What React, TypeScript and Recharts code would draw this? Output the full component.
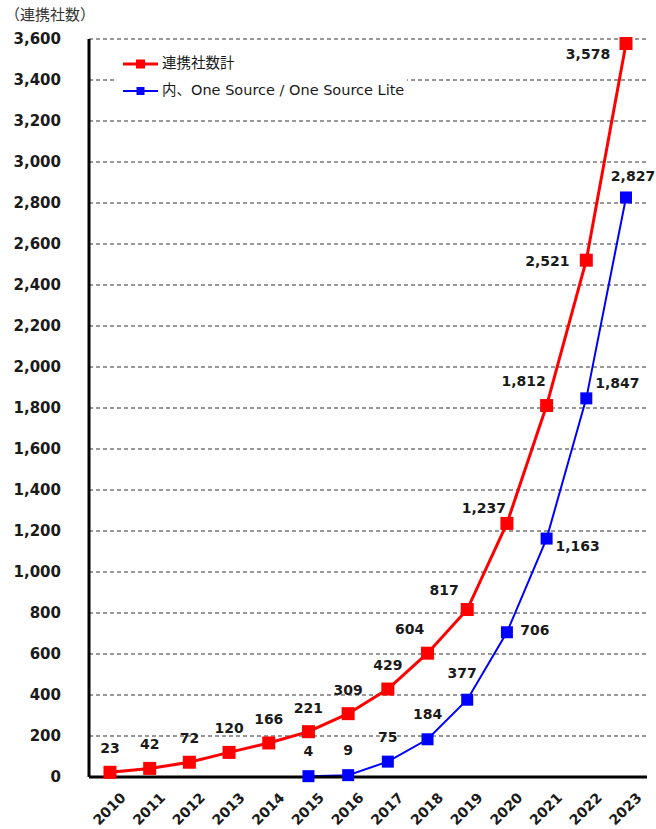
import { LineChart, Line, XAxis, YAxis, CartesianGrid, LabelList } from "recharts";

const years = ["2010", "2011", "2012", "2013", "2014", "2015", "2016", "2017", "2018", "2019", "2020", "2021", "2022", "2023"];
const totalPartners = [23, 42, 72, 120, 166, 221, 309, 429, 604, 817, 1237, 1812, 2521, 3578];
const oneSourcePartners = [null, null, null, null, null, 4, 9, 75, 184, 377, 706, 1163, 1847, 2827];
const yTicks = [0, 200, 400, 600, 800, 1000, 1200, 1400, 1600, 1800, 2000, 2200, 2400, 2600, 2800, 3000, 3200, 3400, 3600];

const totalName = "連携社数計";
const oneSourceName = "内、One Source / One Source Lite";

const data = years.map((year, i) => ({
  year,
  total: totalPartners[i],
  oneSource: oneSourcePartners[i],
}));

const FONT = "'DejaVu Sans', 'Noto Sans CJK JP', sans-serif";
const fmt = (v: number) => v.toLocaleString("en-US");

// label nudges so the two series' numbers don't collide
const totalOffset = (i: number) => {
  if (i <= 7) return { dx: 0, dy: -24 };
  if (i === 8) return { dx: -18, dy: -24 };
  if (i === 9) return { dx: -23, dy: -20 };
  if (i === 10) return { dx: -23, dy: -15 };
  if (i === 11) return { dx: -23, dy: -25 };
  if (i === 12) return { dx: -39, dy: 1 };
  return { dx: -38, dy: 10 };
};
const oneSourceOffset = (i: number) => {
  if (i <= 8) return { dx: 0, dy: -25 };
  if (i === 9) return { dx: -5, dy: -27 };
  if (i === 10) return { dx: 28, dy: -2 };
  if (i === 11) return { dx: 31, dy: 7 };
  if (i === 12) return { dx: 31, dy: -15 };
  return { dx: 7, dy: -21 };
};

function makeLabel(offset: (i: number) => { dx: number; dy: number }) {
  return (props: any) => {
    const { x, y, value, index } = props;
    if (value == null) return null;
    const { dx, dy } = offset(index);
    return (
      <text
        x={x + dx}
        y={y + dy}
        textAnchor="middle"
        dominantBaseline="central"
        fontFamily={FONT}
        fontWeight="bold"
        fontSize={14}
        fill="#1a1a1a"
      >
        {fmt(value)}
      </text>
    );
  };
}

function SquareDot(size: number, color: string) {
  return (props: any) => {
    const { cx, cy, value, index } = props;
    if (value == null || cx == null || cy == null) return <g key={index} />;
    return <rect key={index} x={cx - size / 2} y={cy - size / 2} width={size} height={size} fill={color} />;
  };
}

function ChartLegend() {
  const rows = [
    { name: totalName, color: "#ff0000", w: 3, s: 9 },
    { name: oneSourceName, color: "#0000ff", w: 2, s: 8 },
  ];
  return (
    <div
      style={{
        position: "absolute",
        left: 116,
        top: 50,
        paddingLeft: 7,
        paddingRight: 3,
        fontFamily: FONT,
        fontSize: 14.5,
        color: "#1a1a1a",
        lineHeight: "27px",
        background: "#fff",
      }}
    >
      {rows.map((r) => (
        <div key={r.name} style={{ display: "flex", alignItems: "center" }}>
          <svg width={35} height={14} style={{ marginRight: 4 }}>
            <line x1={0} y1={7} x2={35} y2={7} stroke={r.color} strokeWidth={r.w} />
            <rect x={17.5 - r.s / 2} y={7 - r.s / 2} width={r.s} height={r.s} fill={r.color} />
          </svg>
          <span>{r.name}</span>
        </div>
      ))}
    </div>
  );
}

export default function App() {
  return (
    <div style={{ position: "absolute", left: 0, top: 0, width: 656, height: 829, background: "#fff" }}>
      <div
        style={{
          position: "absolute",
          left: 5,
          top: 3,
          fontFamily: "'Noto Sans CJK JP', sans-serif",
          fontSize: 15,
          color: "#333",
        }}
      >
        （連携社数）
      </div>
      <LineChart width={656} height={829} data={data} margin={{ top: 39, right: 9, left: 0, bottom: 0 }}>
        <CartesianGrid vertical={false} stroke="#333" strokeDasharray="4 3" strokeWidth={1} />
        <XAxis
          dataKey="year"
          height={52}
          padding={{ left: 21, right: 21 }}
          axisLine={{ stroke: "#000", strokeWidth: 3 }}
          tickLine={false}
          interval={0}
          tick={(p: any) => (
            <text
              x={p.x + 13}
              y={p.y + 10}
              textAnchor="end"
              transform={`rotate(-45, ${p.x + 13}, ${p.y + 10})`}
              fontFamily={FONT}
              fontWeight="bold"
              fontSize={14}
              fill="#1a1a1a"
              dominantBaseline="central"
            >
              {p.payload.value}
            </text>
          )}
        />
        <YAxis
          width={89}
          domain={[0, 3600]}
          ticks={yTicks}
          interval={0}
          axisLine={{ stroke: "#000", strokeWidth: 3 }}
          tickLine={false}
          tickFormatter={fmt}
          tick={{ fontFamily: FONT, fontWeight: "bold", fontSize: 15, fill: "#1a1a1a" }}
          tickMargin={22}
        />
        <Line
          type="linear"
          dataKey="total"
          name={totalName}
          stroke="#ff0000"
          strokeWidth={3}
          dot={SquareDot(13, "#ff0000")}
          activeDot={false}
          isAnimationActive={false}
        >
          <LabelList dataKey="total" content={makeLabel(totalOffset)} />
        </Line>
        <Line
          type="linear"
          dataKey="oneSource"
          name={oneSourceName}
          stroke="#0000ff"
          strokeWidth={2}
          dot={SquareDot(12, "#0000ff")}
          activeDot={false}
          connectNulls={false}
          isAnimationActive={false}
        >
          <LabelList dataKey="oneSource" content={makeLabel(oneSourceOffset)} />
        </Line>
      </LineChart>
      <ChartLegend />
    </div>
  );
}
